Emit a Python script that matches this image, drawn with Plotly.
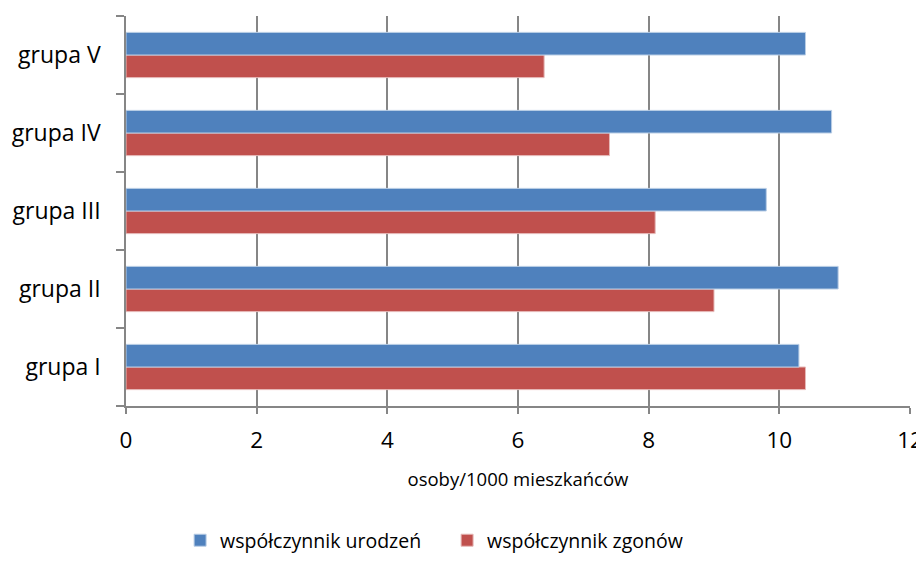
import plotly.graph_objects as go

groups = ["grupa I", "grupa II", "grupa III", "grupa IV", "grupa V"]
urodzenia = [10.3, 10.9, 9.8, 10.8, 10.4]
zgony = [10.4, 9.0, 8.1, 7.4, 6.4]
x_ticks = [0, 2, 4, 6, 8, 10, 12]

GRID = "#868686"
FONT = "Open Sans"

fig = go.Figure()
# first trace sits lower inside each group, so the red series goes first
fig.add_trace(go.Bar(y=groups, x=zgony, orientation="h", name="współczynnik zgonów",
                     marker=dict(color="#c0504d", line=dict(color="#e6b9b8", width=1))))
fig.add_trace(go.Bar(y=groups, x=urodzenia, orientation="h", name="współczynnik urodzeń",
                     marker=dict(color="#4f81bd", line=dict(color="#b9cde5", width=1))))

# page body has an 8px margin, so the figure is 8px smaller than the window
fig.update_layout(
    width=916, height=560,
    paper_bgcolor="white", plot_bgcolor="white",
    font=dict(family=FONT, color="black", size=17),
    margin=dict(l=118, r=14, t=8, b=152),
    barmode="group", bargap=0.42, bargroupgap=0,
    legend=dict(orientation="h", traceorder="reversed", x=0.069, xanchor="left",
                y=-0.345, yanchor="middle", font=dict(size=19.5),
                entrywidthmode="pixels", entrywidth=222),
)
fig.update_xaxes(range=[0, 12], tickvals=x_ticks, showgrid=True, gridcolor=GRID, gridwidth=1.5,
                 showline=True, linecolor=GRID, linewidth=1.5, ticks="outside", ticklen=6,
                 tickcolor=GRID, tickwidth=1.5, tickfont=dict(size=22.5), zeroline=False,
                 automargin=False, ticklabelstandoff=7,
                 title=dict(text="osoby/1000 mieszkańców", font=dict(size=18.5), standoff=19))
fig.update_yaxes(showgrid=False, showline=True, linecolor=GRID, linewidth=1.5,
                 ticks="outside", tickson="boundaries", ticklen=8, tickcolor=GRID, tickwidth=1.5,
                 tickfont=dict(size=23), ticklabelstandoff=19, automargin=False)

fig.write_html("out.html")
